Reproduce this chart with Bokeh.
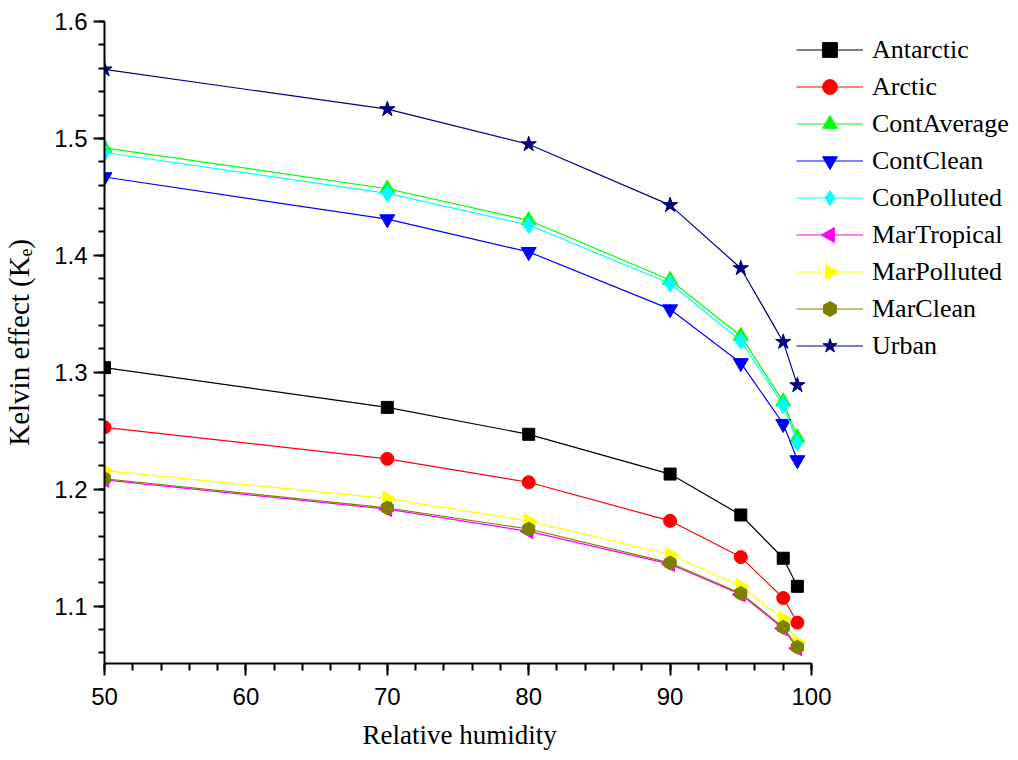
import math
from bokeh.plotting import figure
from bokeh.models import (Range1d, SingleIntervalTicker, PrintfTickFormatter, Title,
                          LegendItem, Legend)
from bokeh.embed import file_html
from bokeh.resources import INLINE

# ---- data ----
humidity = [50, 70, 80, 90, 95, 98, 99]
antarctic = [1.304, 1.270, 1.247, 1.213, 1.178, 1.141, 1.117]
arctic = [1.253, 1.226, 1.206, 1.173, 1.142, 1.107, 1.086]
cont_average = [1.492, 1.457, 1.430, 1.379, 1.331, 1.275, 1.244]
cont_clean = [1.467, 1.431, 1.403, 1.354, 1.308, 1.256, 1.225]
con_polluted = [1.488, 1.453, 1.426, 1.376, 1.327, 1.272, 1.240]
mar_tropical = [1.208, 1.183, 1.164, 1.136, 1.110, 1.081, 1.064]
mar_polluted = [1.216, 1.192, 1.173, 1.144, 1.117, 1.089, 1.069]
mar_clean = [1.209, 1.184, 1.166, 1.137, 1.111, 1.082, 1.065]
urban = [1.559, 1.525, 1.495, 1.443, 1.389, 1.326, 1.289]

series_names = ["Antarctic", "Arctic", "ContAverage", "ContClean", "ConPolluted",
                "MarTropical", "MarPolluted", "MarClean", "Urban"]
series_values = [antarctic, arctic, cont_average, cont_clean, con_polluted,
                 mar_tropical, mar_polluted, mar_clean, urban]
series_colors = ["#000000", "#FF0000", "#00FF00", "#0000FF", "#00FFFF",
                 "#FF00FF", "#FFFF00", "#808000", "#000080"]
series_markers = ["square", "circle", "triangle", "inverted_triangle", "diamond",
                  "triangle", "triangle", "hex", "star"]
series_sizes = [12, 13, 15, 15, 17, 15, 15, 14, 16]
series_angles = [0, 0, 0, 0, 0, math.pi / 2, -math.pi / 2, math.pi / 2, 0]

X_MIN, X_MAX = 50, 100
Y_MIN, Y_MAX = 1.051, 1.6

# frame spans 104..1018 horizontally; x=100 must land at pixel ~811
frame_left, frame_right, axis_end_px = 104, 1018, 811
frame_top, frame_bottom = 21, 663
x_end = X_MIN + (X_MAX - X_MIN) * (frame_right - frame_left) / (axis_end_px - frame_left)

p = figure(width=1018, height=760, output_backend="svg", toolbar_location=None,
           x_range=Range1d(X_MIN, x_end), y_range=Range1d(Y_MIN, Y_MAX),
           min_border_left=frame_left, min_border_right=0, min_border_top=frame_top,
           min_border_bottom=760 - frame_bottom)
p.outline_line_color = None
p.xgrid.visible = False
p.ygrid.visible = False
p.background_fill_color = "white"
p.border_fill_color = "white"

# pixel-space ranges for legend decorations
p.extra_x_ranges = {"px": Range1d(frame_left, frame_right)}
p.extra_y_ranges = {"px": Range1d(frame_bottom, frame_top)}

p.xaxis.ticker = SingleIntervalTicker(interval=10, num_minor_ticks=5)
p.xaxis.bounds = (X_MIN, X_MAX)
p.yaxis.ticker = SingleIntervalTicker(interval=0.1, num_minor_ticks=5)
p.yaxis.formatter = PrintfTickFormatter(format="%.1f")

for ax in (p.xaxis[0], p.yaxis[0]):
    ax.axis_line_width = 2
    ax.axis_line_color = "black"
    ax.major_tick_line_width = 2
    ax.minor_tick_line_width = 2
    ax.major_tick_line_color = "black"
    ax.minor_tick_line_color = "black"
    ax.major_tick_in = 0
    ax.minor_tick_in = 0
    ax.major_label_text_font = "Liberation Sans"
    ax.major_label_text_font_size = "24px"
    ax.major_label_text_color = "black"
    ax.major_label_standoff = 6

p.xaxis.major_tick_out = 12
p.xaxis.minor_tick_out = 7
p.xaxis.major_label_standoff = 12
p.yaxis.major_tick_out = 11
p.yaxis.minor_tick_out = 6

# x-axis title, placed under the 50..100 axis (not under the full frame)
xt = Title(text="Relative humidity", align="left", offset=258,
           text_font="Liberation Serif", text_font_size="27px",
           text_font_style="normal", text_color="black", standoff=20)
p.add_layout(xt, "below")

p.yaxis.axis_label = "Kelvin effect (K\u2091)"
p.yaxis.axis_label_text_font = "Liberation Serif"
p.yaxis.axis_label_text_font_size = "29px"
p.yaxis.axis_label_text_font_style = "normal"
p.yaxis.axis_label_text_color = "black"
p.yaxis.axis_label_standoff = 16

items = []
for name, vals, col, mk, sz, ang in zip(series_names, series_values, series_colors,
                                         series_markers, series_sizes, series_angles):
    lr = p.line(humidity, vals, line_color=col, line_width=1.2)
    sr = p.scatter(humidity, vals, marker=mk, size=sz, angle=ang, fill_color=col,
                   line_color=col)
    items.append((name, lr, sr, mk, ang, col))

# legend
legend_items = []
LEG_X, LEG_Y, ITEM_H, GLYPH_W = 692, 299, 37, 67
for name, lr, sr, mk, ang, col in items:
    if ang != 0:
        legend_items.append(LegendItem(label=name, renderers=[lr]))
    else:
        legend_items.append(LegendItem(label=name, renderers=[lr, sr]))
leg = Legend(items=legend_items, location=(LEG_X, LEG_Y), padding=0, margin=0,
             border_line_color=None, background_fill_alpha=0,
             glyph_width=GLYPH_W, glyph_height=ITEM_H, label_height=ITEM_H,
             spacing=0, label_standoff=9, label_text_font="Liberation Serif",
             label_text_font_size="26px", label_text_color="black")
p.add_layout(leg, "center")

# rotated legend markers (Bokeh's legend ignores marker angle)
leg_top_px = frame_bottom - (LEG_Y + ITEM_H * len(items))
leg_cx = frame_left + LEG_X + GLYPH_W / 2
for i, (name, lr, sr, mk, ang, col) in enumerate(items):
    if ang != 0:
        p.scatter([leg_cx], [leg_top_px + ITEM_H / 2 + ITEM_H * i], marker=mk,
                  size=15, angle=ang, fill_color=col, line_color=col,
                  x_range_name="px", y_range_name="px")

open("out.html", "w").write(file_html(p, INLINE))
